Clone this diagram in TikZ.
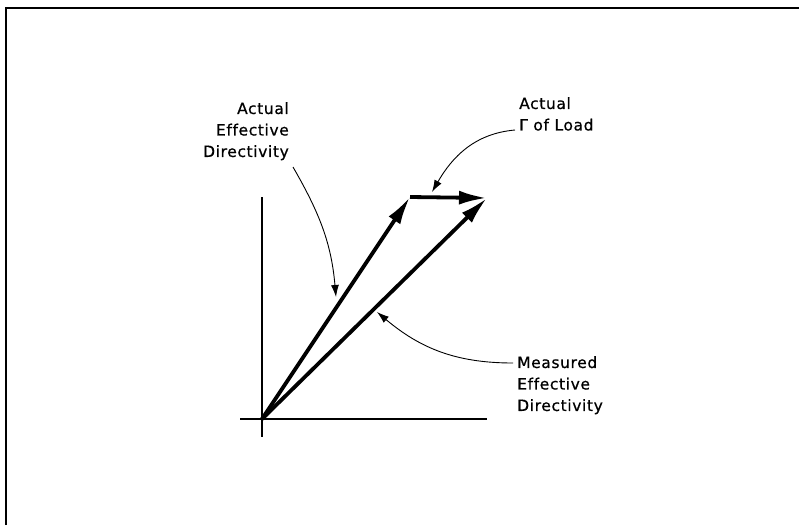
\documentclass[tikz,border=0pt]{standalone}
\usepackage{fontspec}
\setmainfont[LetterSpace=4, FakeBold=0.6, Ligatures=NoCommon]{DejaVu Sans}
\usetikzlibrary{arrows.meta}

\tikzset{
    vec/.style={line width=3.8pt, -{Latex[length=28pt, width=14pt]}},
    axis/.style={line width=1.8pt},
    leader/.style={line width=0.9pt, -{Latex[length=12pt, width=8pt]}},
    lbl/.style={inner sep=0pt, font=\fontsize{15.5}{21.5}\selectfont}
}

\begin{document}
\begin{tikzpicture}[x=1pt, y=-1pt]
        \useasboundingbox (0,0) rectangle (799,525);

        % Frame (left and top edge only)
        \draw[line width=2pt] (6,525) -- (6,8) -- (799,8);

        % Axes
        \coordinate (O) at (262,419);
        \draw[axis] (262,197) -- (262,437);
        \draw[axis] (240,419) -- (487,419);

        % Vector tips
        \coordinate (A) at (410,197);
        \coordinate (B) at (487,198);

        % Actual effective directivity, then Gamma of load
        \draw[vec] (O) -- (A);
        \draw[vec] (A) -- (B);

        % Measured effective directivity
        \draw[vec] (O) -- (B);

        % Labels
        \node[lbl, anchor=north east, align=right] (actdir) at (289,102) {Actual\\Effective\\Directivity};
        \node[lbl, anchor=north west, align=left] (actgam) at (519,97) {Actual\\Γ of Load};
        \node[lbl, anchor=north west, align=left] (measdir) at (517,356) {Measured\\Effective\\Directivity};

        % Leaders
        \coordinate (actdir tip) at (336,297);
        \coordinate (actgam tip) at (432,192);
        \coordinate (measdir tip) at (377,312);
        \draw[leader] (293,167) to[out=-60, in=95] (actdir tip);
        \draw[leader] (515,130) to[out=185, in=60] (actgam tip);
        \draw[leader] (513,363) to[out=180, in=-40] (measdir tip);
    \end{tikzpicture}
\end{document}
